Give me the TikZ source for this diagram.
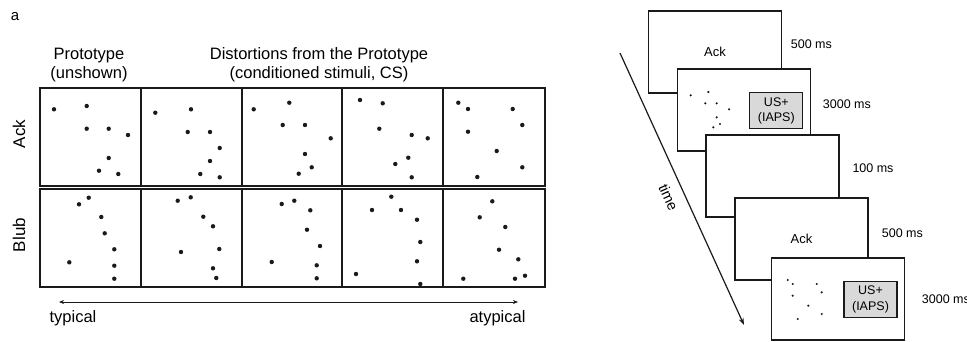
\documentclass[tikz,border=0pt]{standalone}
\usepackage{fontspec}
\setmainfont{Liberation Sans}
\usetikzlibrary{arrows.meta}

\definecolor{ink}{HTML}{1A1A1A}
\definecolor{usgray}{HTML}{D9D9D9}

\begin{document}
\begin{tikzpicture}[x=1pt,y=-1pt,
  cellbox/.style={draw=ink, line width=1.8pt},
  bigdot/.style={fill=ink},
  smalldot/.style={fill=ink},
  screen/.style={draw=ink, line width=1.3pt, fill=white, inner sep=0pt,
    minimum width=133pt, minimum height=82pt, font=\fontsize{13}{15}\selectfont},
  usbox/.style={draw=ink, line width=1.3pt, fill=usgray, inner sep=0pt, align=center,
    minimum width=53pt, minimum height=36pt, font=\fontsize{12.5}{15.4}\selectfont},
  hdr/.style={font=\fontsize{16.5}{19}\selectfont, inner sep=0pt},
  rowlabel/.style={font=\fontsize{17}{20}\selectfont, inner sep=0pt, rotate=90},
  endlabel/.style={font=\fontsize{16.5}{19}\selectfont, inner sep=0pt, anchor=base},
  timing/.style={font=\fontsize{12.5}{15}\selectfont, inner sep=0pt, anchor=west},
  panel/.style={font=\fontsize{15}{18}\selectfont, inner sep=0pt}
]
\useasboundingbox (0,0) rectangle (967,341);

% ---------------- panel a ----------------
\node[panel] (pa) at (15,17) {a};

\node[hdr, anchor=base] (proto)   at (89,59) {Prototype};
\node[hdr, anchor=base] (unshown) at (89,78) {(unshown)};
\node[hdr, anchor=base] (dist)    at (319,59) {Distortions from the Prototype};
\node[hdr, anchor=base] (cs)      at (319,78) {(conditioned stimuli, CS)};

\node[rowlabel] (ack)  at (19,134) {Ack};
\node[rowlabel] (blub) at (19,235) {Blub};

% cell grid: two rows of five boxes
\foreach \xa/\xb in {40/141,141/242,242/342,342/443,443/545}{
  \draw[cellbox] (\xa,88) rectangle (\xb,186);
  \draw[cellbox] (\xa,189.3) rectangle (\xb,287);
}

% dot patterns, row "Ack"
\foreach \p in {(54,109.3),(86.7,106),(86.7,128.7),(108.7,128.7),(128,135),(108.7,158),(99,170.7),(118.3,174),
  (155.3,112.7),(191,109.3),(187.7,132),(210,132),(219.7,148),(210,161),(200.3,174),(219.7,177.3),
  (253.7,109.3),(289.3,102.7),(282.7,125),(305,125),(330.7,138.3),(305,154),(311.7,167.3),(298.7,173.7),
  (360,100),(382.7,103.3),(379.3,128.7),(411.7,135),(427.7,138.3),(408.3,157.7),(395.3,164),(411.7,177.3),
  (458.3,102.7),(468,109),(512.7,109),(522.3,125),(468,131.7),(496.7,151),(522.3,167.3),(477.3,177)}
  \fill[bigdot] \p circle (2.2);

% dot patterns, row "Blub"
\foreach \p in {(88.7,197.7),(79,204.3),(101.3,217),(104.7,233.3),(114.3,249.3),(69.3,262.3),(114.3,265.7),(114.3,278.7),
  (177.7,200.7),(190.7,197.3),(203.3,216.7),(213,226.3),(219.3,249),(181,252),(213,268.3),(216.3,278),
  (281.7,204),(294.3,200.7),(310.3,210.3),(307,229.7),(320,246),(271.7,262),(316.7,265.3),(316.7,278.3),
  (391.3,196.7),(372,210),(401,210),(417,219.7),(420.3,242),(417,261.3),(356,274),(420.3,284),
  (492.3,201.3),(479.7,217.3),(505.3,227),(499,249.7),(518.3,259.3),(463.3,278.7),(515,278.7),(525,275.7)}
  \fill[bigdot] \p circle (2.2);

% typicality axis
\coordinate (axl) at (59,302);
\coordinate (axr) at (518,302);
\draw[ink, line width=0.8pt, {Stealth[length=5pt,width=4pt]}-{Stealth[length=5pt,width=4pt]}] (axl) -- (axr);
\node[endlabel] (typ)  at (73,322) {typical};
\node[endlabel] (atyp) at (497.5,322) {atypical};

% ---------------- panel b ----------------
\node[panel] (pb) at (672,17) {b};

% time axis
\coordinate (t0) at (620,53);
\coordinate (t1) at (744,325);
\draw[ink, line width=1.2pt, -{Stealth[length=7pt,width=5pt]}] (t0) -- (t1);
\node[font=\fontsize{14.5}{17}\selectfont, inner sep=0pt, rotate=-65.5] (time) at (668.5,197.5) {time};

% trial sequence screens
\node[screen] (s1) at (715,52) {Ack};
\node[timing] (d1) at (790.7,44.3) {500 ms};

\node[screen] (s2) at (744,110) {};
\node[usbox] (us1) at (776.3,110.7) {US+\\(IAPS)};
\foreach \p in {(690.7,95.3),(708.3,92),(705.3,103.3),(716.7,103.3),(729,109.3),(716.7,117.3),(720,124),(713.3,127.3)}
  \fill[smalldot] \p circle (1.2);
\node[timing] (d2) at (822.7,104.3) {3000 ms};

\node[screen] (s3) at (772.5,176) {};
\node[timing] (d3) at (852.3,168.3) {100 ms};

\node[screen] (s4) at (801.5,239) {Ack};
\node[timing] (d4) at (881.7,232.7) {500 ms};

\node[screen] (s5) at (838,299) {};
\node[usbox] (us2) at (870.5,299.5) {US+\\(IAPS)};
\foreach \p in {(787.7,280),(792.7,284),(816.7,284),(821.7,292.3),(792.7,295.7),(808.3,305.7),(821.7,314),(797.7,319)}
  \fill[smalldot] \p circle (1.2);
\node[timing] (d5) at (921.7,299.3) {3000 ms};
\end{tikzpicture}
\end{document}
